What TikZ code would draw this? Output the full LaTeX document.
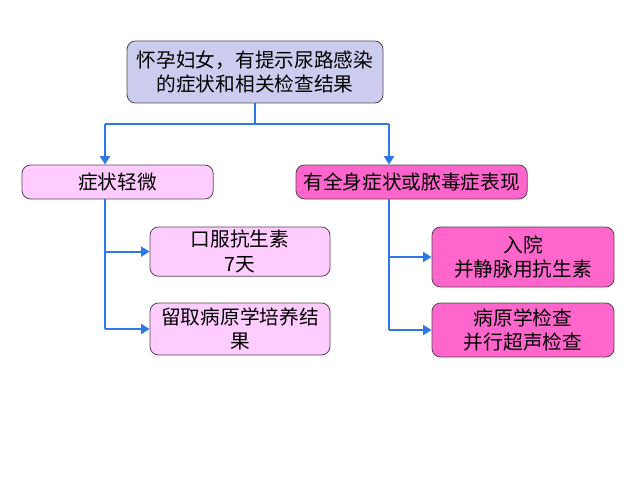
\documentclass[tikz,border=0pt]{standalone}
\usepackage{fontspec}
\newfontfamily\cjk{Noto Sans CJK SC}
\definecolor{linkblue}{RGB}{45, 120, 230}
\definecolor{lavender1}{RGB}{204, 204, 238}
\definecolor{pink1}{RGB}{255, 204, 255}
\definecolor{magenta1}{RGB}{255, 102, 204}
\definecolor{edgegray}{RGB}{90, 70, 90}
\usetikzlibrary{arrows.meta, positioning, calc}

\tikzset{
  card/.style={draw=edgegray, line width=0.6pt, rounded corners=6pt, align=center,
    font=\cjk\fontsize{14}{17.5}\selectfont, inner sep=2pt},
  mildcard/.style={card, fill=pink1},
  hotcard/.style={card, fill=magenta1},
  link/.style={draw=linkblue, line width=1.5pt},
  arr/.style={link, -{Triangle[length=6pt, width=7pt]}}
}

\begin{document}
\begin{tikzpicture}
  \useasboundingbox[fill=white] (0,0) rectangle (16,12);

  % top
  \node[card, fill=lavender1, minimum width=6.4cm, minimum height=1.55cm] (preg) at (6.375, 10.2)
    {怀孕妇女，有提示尿路感染\\的症状和相关检查结果};

  % two branches
  \node[mildcard, minimum width=4.78cm, minimum height=0.85cm] (mild) at (2.94, 7.45) {症状轻微};
  \node[hotcard, minimum width=5.78cm, minimum height=0.85cm] (severe) at (10.29, 7.45) {有全身症状或脓毒症表现};

  % left column
  \node[mildcard, minimum width=4.5cm, minimum height=1.23cm] (oral) at (6.0, 5.71) {口服抗生素\\7天};
  \node[mildcard, minimum width=4.5cm, minimum height=1.3cm] (culture) at (6.0, 3.775) {留取病原学培养结\\果};

  % right column
  \node[hotcard, minimum width=4.55cm, minimum height=1.5cm] (admit) at (13.075, 5.575) {入院\\并静脉用抗生素};
  \node[hotcard, minimum width=4.55cm, minimum height=1.35cm] (exam) at (13.075, 3.75) {病原学检查\\并行超声检查};

  % connectors
  \coordinate (lsplit) at (2.625, 8.9);
  \coordinate (rsplit) at (9.725, 8.9);
  \draw[link] (preg.south) -- (preg.south |- lsplit);
  \draw[link] (lsplit) -- (rsplit);
  \draw[arr] (lsplit) -- (lsplit |- mild.north);
  \draw[arr] (rsplit) -- (rsplit |- severe.north);

  \draw[link] (lsplit |- mild.south) -- (lsplit |- culture.west);
  \draw[arr] (lsplit |- oral.west) -- (oral.west);
  \draw[arr] (lsplit |- culture.west) -- (culture.west);

  \draw[link] (rsplit |- severe.south) -- (rsplit |- exam.west);
  \draw[arr] (rsplit |- admit.west) -- (admit.west);
  \draw[arr] (rsplit |- exam.west) -- (exam.west);
\end{tikzpicture}
\end{document}
